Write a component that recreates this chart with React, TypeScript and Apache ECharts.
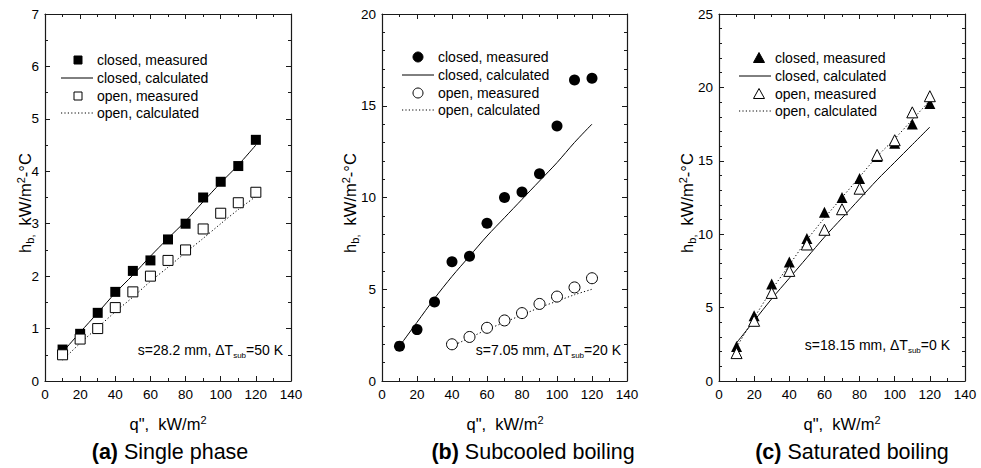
import React, { useEffect, useRef } from "react";
import * as echarts from "echarts";

// ---- data ----
const qAll = [10, 20, 30, 40, 50, 60, 70, 80, 90, 100, 110, 120];
const qOpenB = [40, 50, 60, 70, 80, 90, 100, 110, 120];

// (a) single phase
const aClosedMeas = [0.6, 0.9, 1.3, 1.7, 2.1, 2.3, 2.7, 3.0, 3.5, 3.8, 4.1, 4.6];
const aClosedCalc = [0.55, 0.93, 1.3, 1.68, 2.02, 2.38, 2.72, 3.05, 3.42, 3.78, 4.12, 4.5];
const aOpenMeas = [0.5, 0.8, 1.0, 1.4, 1.7, 2.0, 2.3, 2.5, 2.9, 3.2, 3.4, 3.6];
const aOpenCalc = [0.4, 0.72, 1.02, 1.32, 1.6, 1.9, 2.17, 2.45, 2.72, 3.0, 3.27, 3.52];

// (b) subcooled boiling
const bClosedMeas = [1.9, 2.8, 4.3, 6.5, 6.8, 8.6, 10.0, 10.3, 11.3, 13.9, 16.4, 16.5];
const bClosedCalc = [1.9, 3.2, 4.5, 5.7, 6.8, 7.9, 8.9, 9.9, 10.9, 11.9, 13.0, 14.0];
const bOpenMeas = [2.0, 2.4, 2.9, 3.3, 3.7, 4.2, 4.6, 5.1, 5.6];
const bOpenCalc = [1.9, 2.35, 2.8, 3.2, 3.6, 4.0, 4.35, 4.7, 5.0];

// (c) saturated boiling
const cClosedMeas = [2.35, 4.45, 6.6, 8.1, 9.7, 11.5, 12.5, 13.8, 15.3, 16.2, 17.5, 18.9];
const cClosedCalc = [2.6, 4.1, 5.6, 7.0, 8.4, 9.8, 11.1, 12.4, 13.7, 14.9, 16.1, 17.3];
const cOpenMeas = [1.9, 4.1, 6.0, 7.5, 9.3, 10.3, 11.7, 13.1, 15.4, 16.4, 18.3, 19.4];
const cOpenCalc = [2.3, 4.3, 6.2, 7.9, 9.6, 11.1, 12.5, 13.9, 15.3, 16.5, 17.8, 19.1];

const legendLabels = ["closed, measured", "closed, calculated", "open, measured", "open, calculated"];
const xTitle = "q\",  kW/m";
const subtitles = [
  ["(a)", " Single phase"],
  ["(b)", " Subcooled boiling"],
  ["(c)", " Saturated boiling"],
];
const annotations = [
  ["s=28.2 mm, ΔT", "sub", "=50 K"],
  ["s=7.05 mm, ΔT", "sub", "=20 K"],
  ["s=18.15 mm, ΔT", "sub", "=0 K"],
];
const yMax = [7, 20, 25];
const yInterval = [1, 5, 5];
const yMinorSplit = [2, 5, 5];
const symbols = ["rect", "circle", "triangle"];

const FONT = "Liberation Sans, Arial, Helvetica, sans-serif";
const AX = "#1a1a1a";

const pairs = (xs: number[], ys: number[]) => xs.map((x, i) => [x, ys[i]]);

export default function App() {
  const ref = useRef<HTMLDivElement>(null);
  useEffect(() => {
    if (!ref.current) return;
    const chart = echarts.init(ref.current, undefined, { renderer: "svg" });

    const grids = [
      { left: 45, top: 14, width: 246, height: 367 },
      { left: 382, top: 14, width: 245, height: 367 },
      { left: 719, top: 14, width: 246, height: 367 },
    ];

    const xAxes: any[] = [];
    const yAxes: any[] = [];
    grids.forEach((g, i) => {
      const common = {
        gridIndex: i,
        axisLine: { show: true, onZero: false, lineStyle: { color: AX, width: 1.2 } },
        splitLine: { show: false },
      };
      const tick = { inside: true, length: 5, lineStyle: { color: AX } };
      xAxes.push({
        ...common, type: "value", position: "bottom", min: 0, max: 140, interval: 20,
        axisTick: tick,
        minorTick: { show: true, splitNumber: 2, length: 3, lineStyle: { color: AX } },
        axisLabel: { color: "#000", fontSize: 13.5, fontFamily: FONT, margin: 6 },
      });
      xAxes.push({
        ...common, type: "value", position: "top", min: 0, max: 140, interval: 20,
        axisTick: tick,
        minorTick: { show: true, splitNumber: 2, length: 3, lineStyle: { color: AX } },
        axisLabel: { show: false },
      });
      yAxes.push({
        ...common, type: "value", position: "left", min: 0, max: yMax[i], interval: yInterval[i],
        axisTick: tick,
        minorTick: { show: true, splitNumber: yMinorSplit[i], length: 3, lineStyle: { color: AX } },
        axisLabel: { color: "#000", fontSize: 13.5, fontFamily: FONT, margin: 6 },
      });
      yAxes.push({
        ...common, type: "value", position: "right", min: 0, max: yMax[i], interval: yInterval[i],
        axisTick: tick,
        minorTick: { show: true, splitNumber: yMinorSplit[i], length: 3, lineStyle: { color: AX } },
        axisLabel: { show: false },
      });
    });

    const panelData = [
      { cm: pairs(qAll, aClosedMeas), cc: pairs(qAll, aClosedCalc), om: pairs(qAll, aOpenMeas), oc: pairs(qAll, aOpenCalc), size: 10 },
      { cm: pairs(qAll, bClosedMeas), cc: pairs(qAll, bClosedCalc), om: pairs(qOpenB, bOpenMeas), oc: pairs(qOpenB, bOpenCalc), size: 11 },
      { cm: pairs(qAll, cClosedMeas), cc: pairs(qAll, cClosedCalc), om: pairs(qAll, cOpenMeas), oc: pairs(qAll, cOpenCalc), size: 11 },
    ];

    const series: any[] = [];
    panelData.forEach((p, i) => {
      const ax = { xAxisIndex: i * 2, yAxisIndex: i * 2 };
      series.push({
        ...ax, type: "line", name: legendLabels[1], data: p.cc, showSymbol: false, smooth: 0.3, z: 1,
        lineStyle: { color: "#000", width: 1 },
      });
      series.push({
        ...ax, type: "line", name: legendLabels[3], data: p.oc, showSymbol: false, smooth: 0.3, z: 1,
        lineStyle: { color: "#000", width: 1, type: [1.2, 2.2] },
      });
      series.push({
        ...ax, type: "scatter", name: legendLabels[0], data: p.cm, symbol: symbols[i], symbolSize: p.size, z: 2,
        itemStyle: { color: "#000", opacity: 1 },
      });
      series.push({
        ...ax, type: "scatter", name: legendLabels[2], data: p.om, symbol: symbols[i], symbolSize: p.size, z: 3,
        itemStyle: { color: "#fff", borderColor: "#000", borderWidth: 1, opacity: 1 },
      });
    });

    // legends
    const legendPos = [
      { sym: 78, l0: 61, l1: 93, tx: 97, rows: [60, 78, 96, 113] },
      { sym: 418, l0: 402, l1: 434, tx: 438, rows: [57, 75, 93, 110] },
      { sym: 759, l0: 739, l1: 771, tx: 775, rows: [58, 76, 94, 111] },
    ];
    const graphics: any[] = [];
    const makeSym = (kind: number, cx: number, cy: number, filled: boolean) => {
      const style = filled ? { fill: "#000", stroke: "#000", lineWidth: 1 } : { fill: "#fff", stroke: "#000", lineWidth: 1 };
      if (kind === 0) return { type: "rect", shape: { x: cx - 4, y: cy - 4, width: 8, height: 8 }, style };
      if (kind === 1) return { type: "circle", shape: { cx, cy, r: 5 }, style };
      return { type: "polygon", shape: { points: [[cx, cy - 5.5], [cx + 5.5, cy + 4.5], [cx - 5.5, cy + 4.5]] }, style };
    };
    legendPos.forEach((lp, i) => {
      graphics.push(makeSym(i, lp.sym, lp.rows[0], true));
      graphics.push({ type: "line", shape: { x1: lp.l0, y1: lp.rows[1], x2: lp.l1, y2: lp.rows[1] }, style: { stroke: "#000", lineWidth: 1 } });
      graphics.push(makeSym(i, lp.sym, lp.rows[2], false));
      graphics.push({ type: "line", shape: { x1: lp.l0, y1: lp.rows[3], x2: lp.l1, y2: lp.rows[3] }, style: { stroke: "#000", lineWidth: 1, lineDash: [1.2, 2.2] } });
      legendLabels.forEach((t, k) => {
        graphics.push({
          type: "text", x: lp.tx, y: lp.rows[k],
          style: { text: t, fontSize: 14, fontFamily: FONT, fill: "#000", textAlign: "left", textVerticalAlign: "middle" },
        });
      });
    });

    const big = 16.5;
    const small = 11;
    const lh = 20;
    const richBase = {
      n: { fontSize: big, fontFamily: FONT, fill: "#000", lineHeight: lh },
      s: { fontSize: small, fontFamily: FONT, fill: "#000", lineHeight: 9, verticalAlign: "bottom" },
      p: { fontSize: small, fontFamily: FONT, fill: "#000", lineHeight: 9, verticalAlign: "top" },
    };

    // x axis titles
    const xTitleX = [168, 505, 842];
    xTitleX.forEach((x) => {
      graphics.push({
        type: "text", x, y: 424,
        style: {
          text: `{n|${xTitle}}{p|2}`,
          rich: richBase,
          textAlign: "center", textVerticalAlign: "middle",
        },
      });
    });

    // y axis titles
    const yTitleX = [25, 350, 687];
    yTitleX.forEach((x) => {
      graphics.push({
        type: "text", x, y: 203, rotation: Math.PI / 2,
        style: {
          text: "{n|h}{s|b,}{n|  kW/m}{p|2}{n|-°C}",
          rich: richBase,
          textAlign: "center", textVerticalAlign: "middle",
        },
      });
    });

    // annotations
    const annPos = [
      { x: 283, y: 350 },
      { x: 621, y: 350 },
      { x: 950, y: 345 },
    ];
    annotations.forEach((a, i) => {
      graphics.push({
        type: "text", x: annPos[i].x, y: annPos[i].y,
        style: {
          text: `{n|${a[0]}}{s|${a[1]}}{n|${a[2]}}`,
          rich: {
            n: { fontSize: 14, fontFamily: FONT, fill: "#000", lineHeight: 18 },
            s: { fontSize: 8, fontFamily: FONT, fill: "#000", lineHeight: 6, verticalAlign: "bottom" },
          },
          textAlign: "right", textVerticalAlign: "middle",
        },
      });
    });

    // subtitles
    const subX = [170, 533, 852];
    subtitles.forEach((s, i) => {
      graphics.push({
        type: "text", x: subX[i], y: 452,
        style: {
          text: `{b|${s[0]}}{n|${s[1]}}`,
          rich: {
            b: { fontSize: 21.5, fontFamily: FONT, fontWeight: "bold", fill: "#000" },
            n: { fontSize: 21.5, fontFamily: FONT, fill: "#000" },
          },
          textAlign: "center", textVerticalAlign: "middle",
        },
      });
    });

    chart.setOption({
      animation: false,
      backgroundColor: "#fff",
      grid: grids,
      xAxis: xAxes,
      yAxis: yAxes,
      series,
      graphic: graphics,
    });
    return () => chart.dispose();
  }, []);

  return (
    <div
      ref={ref}
      style={{ position: "fixed", left: 0, top: 0, width: 981, height: 468, background: "#fff" }}
    />
  );
}
